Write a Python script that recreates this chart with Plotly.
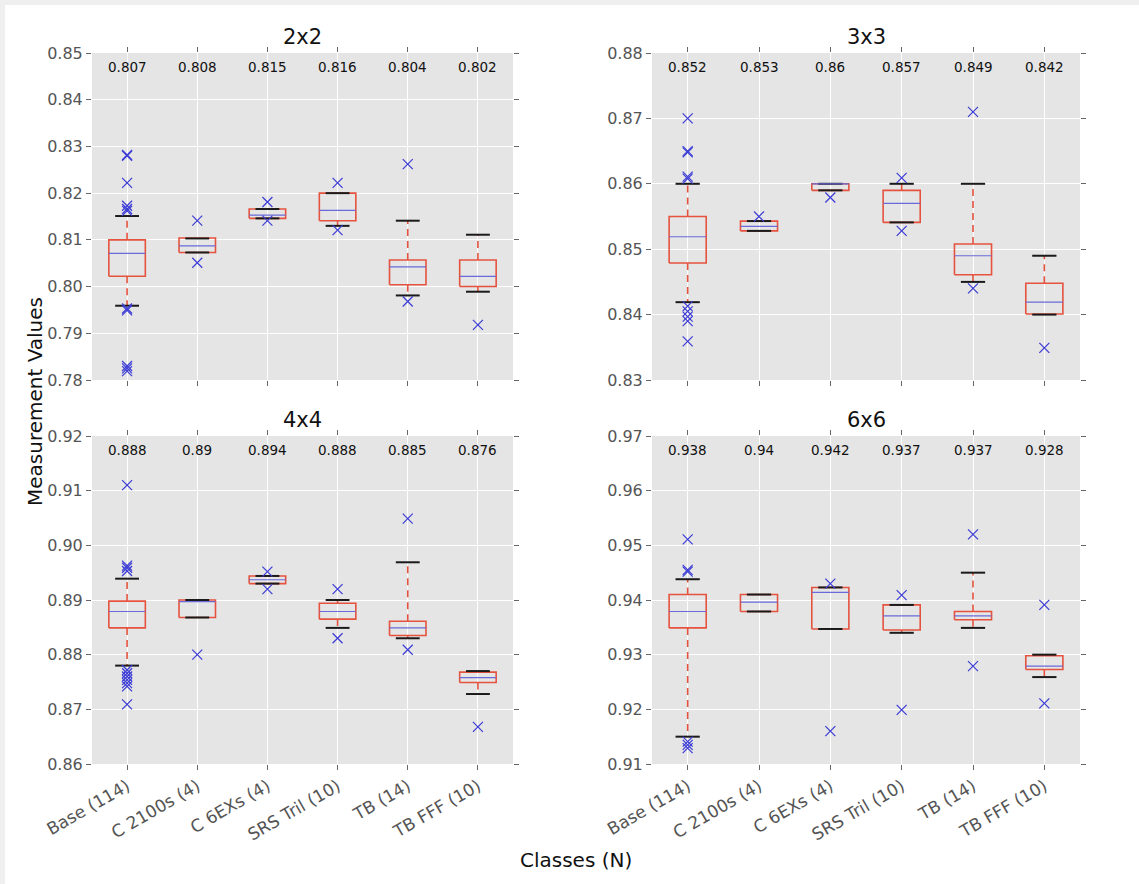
import plotly.graph_objects as go
from plotly.subplots import make_subplots

categories = ["Base (114)", "C 2100s (4)", "C 6EXs (4)", "SRS Tril (10)", "TB (14)", "TB FFF (10)"]
panel_titles = ["2x2", "3x3", "4x4", "6x6"]

# 2x2
q1_2 = [0.8022, 0.8073, 0.8146, 0.8141, 0.8004, 0.8000]
med_2 = [0.8071, 0.8087, 0.8153, 0.8163, 0.8042, 0.8022]
q3_2 = [0.8100, 0.8104, 0.8166, 0.8200, 0.8057, 0.8057]
lo_2 = [0.7959, 0.8073, 0.8146, 0.8130, 0.7981, 0.7989]
hi_2 = [0.8151, 0.8103, 0.8166, 0.8200, 0.8141, 0.8111]
out_2 = [[0.8282, 0.8280, 0.8222, 0.8173, 0.8166, 0.8162, 0.7953, 0.7949, 0.7830, 0.7825, 0.7819],
         [0.8141, 0.8051], [0.8181, 0.8141], [0.8222, 0.8121], [0.8262, 0.7968], [0.7918]]
lab_2 = ["0.807", "0.808", "0.815", "0.816", "0.804", "0.802"]

# 3x3
q1_3 = [0.8479, 0.8528, 0.8590, 0.8541, 0.8461, 0.8401]
med_3 = [0.8519, 0.8535, 0.8600, 0.8570, 0.8490, 0.8419]
q3_3 = [0.8550, 0.8543, 0.8600, 0.8590, 0.8508, 0.8448]
lo_3 = [0.8419, 0.8528, 0.8590, 0.8541, 0.8450, 0.8400]
hi_3 = [0.8600, 0.8543, 0.8600, 0.8600, 0.8600, 0.8490]
out_3 = [[0.8700, 0.8650, 0.8648, 0.8611, 0.8608, 0.8413, 0.8405, 0.8397, 0.8390, 0.8359],
         [0.8550], [0.8579], [0.8609, 0.8528], [0.8710, 0.8440], [0.8349]]
lab_3 = ["0.852", "0.853", "0.86", "0.857", "0.849", "0.842"]

# 4x4
q1_4 = [0.8849, 0.8868, 0.8930, 0.8865, 0.8835, 0.8749]
med_4 = [0.8879, 0.8897, 0.8937, 0.8879, 0.8849, 0.8758]
q3_4 = [0.8898, 0.8900, 0.8944, 0.8894, 0.8861, 0.8768]
lo_4 = [0.8780, 0.8868, 0.8930, 0.8849, 0.8830, 0.8728]
hi_4 = [0.8939, 0.8900, 0.8944, 0.8900, 0.8969, 0.8770]
out_4 = [[0.9110, 0.8963, 0.8959, 0.8953, 0.8772, 0.8766, 0.8760, 0.8754, 0.8748, 0.8742, 0.8709],
         [0.8800], [0.8952, 0.8920], [0.8920, 0.8830], [0.9049, 0.8809], [0.8668]]
lab_4 = ["0.888", "0.89", "0.894", "0.888", "0.885", "0.876"]

# 6x6
q1_6 = [0.9349, 0.9379, 0.9347, 0.9345, 0.9364, 0.9273]
med_6 = [0.9379, 0.9396, 0.9414, 0.9371, 0.9371, 0.9279]
q3_6 = [0.9410, 0.9410, 0.9423, 0.9391, 0.9379, 0.9298]
lo_6 = [0.9150, 0.9379, 0.9347, 0.9340, 0.9349, 0.9259]
hi_6 = [0.9438, 0.9410, 0.9423, 0.9391, 0.9450, 0.9300]
out_6 = [[0.9511, 0.9455, 0.9452, 0.9141, 0.9135, 0.9129],
         [], [0.9430, 0.9160], [0.9409, 0.9199], [0.9520, 0.9279], [0.9391, 0.9211]]
lab_6 = ["0.938", "0.94", "0.942", "0.937", "0.937", "0.928"]

y_ranges = [[0.78, 0.85], [0.83, 0.88], [0.86, 0.92], [0.91, 0.97]]

panels = [
    (q1_2, med_2, q3_2, lo_2, hi_2, out_2, lab_2),
    (q1_3, med_3, q3_3, lo_3, hi_3, out_3, lab_3),
    (q1_4, med_4, q3_4, lo_4, hi_4, out_4, lab_4),
    (q1_6, med_6, q3_6, lo_6, hi_6, out_6, lab_6),
]

BOX_COL = "#E5533F"
MED_COL = "#6A6AD8"
OUT_COL = "#3C3CD6"
CAP_COL = "#1A1A1A"
FONT = "DejaVu Sans"

fig = make_subplots(rows=2, cols=2)

x_domains = [[92 / 1139, 513 / 1139], [652 / 1139, 1080 / 1139]]
y_domains = [[1 - 380 / 884, 1 - 53 / 884], [1 - 764 / 884, 1 - 436 / 884]]

bw = 0.26
cw = 0.17

annotations = []
for p, (q1, med, q3, lo, hi, outs, labs) in enumerate(panels):
    r, c = p // 2 + 1, p % 2 + 1
    pos = list(range(1, len(categories) + 1))
    # whiskers
    wx, wy = [], []
    for i, x in enumerate(pos):
        wx += [x, x, None, x, x, None]
        wy += [q3[i], hi[i], None, q1[i], lo[i], None]
    fig.add_trace(go.Scatter(x=wx, y=wy, mode="lines", line=dict(color=BOX_COL, width=1.6, dash="7px,5px"),
                             hoverinfo="skip", showlegend=False), row=r, col=c)
    # boxes
    bx, by = [], []
    for i, x in enumerate(pos):
        bx += [x - bw, x + bw, x + bw, x - bw, x - bw, None]
        by += [q1[i], q1[i], q3[i], q3[i], q1[i], None]
    fig.add_trace(go.Scatter(x=bx, y=by, mode="lines", line=dict(color=BOX_COL, width=1.6),
                             hoverinfo="skip", showlegend=False), row=r, col=c)
    # caps
    cx, cy = [], []
    for i, x in enumerate(pos):
        cx += [x - cw, x + cw, None, x - cw, x + cw, None]
        cy += [hi[i], hi[i], None, lo[i], lo[i], None]
    fig.add_trace(go.Scatter(x=cx, y=cy, mode="lines", line=dict(color=CAP_COL, width=2),
                             hoverinfo="skip", showlegend=False), row=r, col=c)
    # medians
    mx, my = [], []
    for i, x in enumerate(pos):
        mx += [x - bw, x + bw, None]
        my += [med[i], med[i], None]
    fig.add_trace(go.Scatter(x=mx, y=my, mode="lines", line=dict(color=MED_COL, width=1.2),
                             hoverinfo="skip", showlegend=False), row=r, col=c)
    # outliers
    ox, oy = [], []
    for i, x in enumerate(pos):
        for v in outs[i]:
            ox.append(x)
            oy.append(v)
    fig.add_trace(go.Scatter(x=ox, y=oy, mode="markers",
                             marker=dict(symbol="x-thin", size=10, line=dict(color=OUT_COL, width=1.2)),
                             hoverinfo="skip", showlegend=False), row=r, col=c)

    xa = "x" if p == 0 else f"x{p + 1}"
    ya = "y" if p == 0 else f"y{p + 1}"
    for i, x in enumerate(pos):
        annotations.append(dict(x=x, y=0.957, xref=xa, yref=f"{ya} domain", text=labs[i], showarrow=False,
                                font=dict(family=FONT, size=13.5, color="#111111"), yanchor="middle"))
    annotations.append(dict(x=0.5, y=1.05, xref=f"{xa} domain", yref=f"{ya} domain", text=panel_titles[p],
                            showarrow=False, font=dict(family=FONT, size=21, color="#111111"), yanchor="middle"))

    fig.update_xaxes(row=r, col=c, domain=x_domains[c - 1], range=[0.5, 6.5], tickvals=pos,
                     ticktext=categories, showticklabels=(r == 2), tickangle=-30, automargin=False,
                     ticks="outside", ticklen=5, tickcolor="#666666", mirror="ticks",
                     showgrid=True, gridcolor="white", gridwidth=1, zeroline=False, showline=False,
                     tickfont=dict(family=FONT, size=17, color="#555555"))
    fig.update_yaxes(row=r, col=c, domain=y_domains[r - 1], range=y_ranges[p], dtick=0.01, tick0=0.0,
                     tickformat=".2f", ticks="outside", ticklen=5, tickcolor="#666666", mirror="ticks",
                     automargin=False,
                     showgrid=True, gridcolor="white", gridwidth=1, zeroline=False, showline=False,
                     tickfont=dict(family=FONT, size=16, color="#555555"))

annotations.append(dict(x=35 / 1139, y=1 - 402 / 884, xref="paper", yref="paper", text="Measurement Values",
                        textangle=-90, showarrow=False, font=dict(family=FONT, size=20, color="#111111"),
                        xanchor="center", yanchor="middle"))
annotations.append(dict(x=576 / 1139, y=1 - 860 / 884, xref="paper", yref="paper", text="Classes (N)",
                        showarrow=False, font=dict(family=FONT, size=20, color="#111111"),
                        xanchor="center", yanchor="middle"))

fig.update_layout(
    width=1139, height=884,
    margin=dict(l=0, r=0, t=0, b=0, autoexpand=False),
    paper_bgcolor="white",
    plot_bgcolor="#E5E5E5",
    annotations=annotations,
    shapes=[
        dict(type="rect", xref="paper", yref="paper", x0=0, x1=1, y0=1 - 5 / 884, y1=1,
             fillcolor="#EFEFEF", line=dict(width=0), layer="below"),
        dict(type="rect", xref="paper", yref="paper", x0=0, x1=5 / 1139, y0=0, y1=1,
             fillcolor="#EFEFEF", line=dict(width=0), layer="below"),
    ],
)

fig.write_html("out.html")
